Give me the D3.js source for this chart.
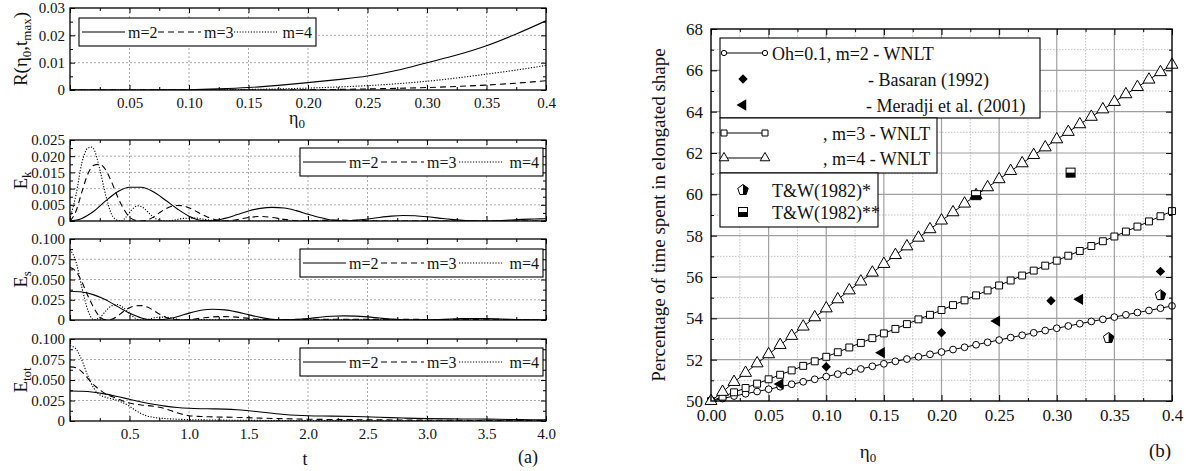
<!DOCTYPE html>
<html>
<head>
<meta charset="utf-8">
<script src="https://cdn.jsdelivr.net/npm/d3@7"></script>
<style>
  body { margin: 0; background: #fff; }
  svg { display: block; }
  text { font-family: "Liberation Serif", "Times New Roman", serif; fill: #111; }
</style>
</head>
<body>
<div id="chart"></div>
<script>
// ---- panel (a), top: R(eta0, tmax) ----
const etaR = [0,0.025,0.05,0.075,0.1,0.125,0.15,0.175,0.2,0.225,0.25,0.275,0.3,0.325,0.35,0.375,0.4]
const R_m2 = [0,0,0,0.00003,0.0001,0.0004,0.0009,0.0017,0.0027,0.0038,0.0051,0.0072,0.0100,0.0128,0.0162,0.0205,0.0253]
const R_m3 = [0,0,0,0,0,0,0,0,0.0001,0.0002,0.0004,0.0006,0.0009,0.0013,0.0018,0.0025,0.0034]
const R_m4 = [0,0,0,0,0.00002,0.0001,0.0002,0.0004,0.0007,0.0011,0.0016,0.0023,0.0032,0.0044,0.0058,0.0073,0.0090]

// ---- Ek ----
const tEk2 = [0,0.1,0.2,0.3,0.4,0.5,0.6,0.7,0.8,0.9,1.0,1.1,1.2,1.3,1.4,1.5,1.6,1.7,1.8,1.9,2.0,2.1,2.2,2.3,2.4,2.5,2.6,2.7,2.8,2.9,3.0,3.1,3.2,3.3,3.4,3.5,3.6,3.7,3.8,3.9,4.0]
const Ek_m2 = [0,0.0008,0.003,0.0062,0.009,0.0104,0.0104,0.009,0.0065,0.0038,0.0015,0.0002,0.0001,0.0008,0.0019,0.0031,0.0039,0.0042,0.004,0.0032,0.0021,0.0011,0.0003,0,0.0002,0.0006,0.0011,0.0015,0.0017,0.0016,0.0013,0.0009,0.0005,0.0002,0,0,0.0001,0.0003,0.0005,0.0006,0.0007]
const tEk3 = [0,0.05,0.1,0.15,0.2,0.25,0.3,0.35,0.4,0.45,0.5,0.55,0.6,0.65,0.7,0.75,0.8,0.85,0.9,0.95,1.0,1.05,1.1,1.15,1.2,1.25,1.3,1.4,1.5,1.6,1.7,1.8,1.9,2.0,2.2,2.4,2.6,4.0]
const Ek_m3 = [0,0.003,0.009,0.0145,0.0172,0.0175,0.0158,0.012,0.0075,0.0038,0.0012,0.0002,0,0.0003,0.0012,0.0025,0.0037,0.0045,0.0048,0.0047,0.0041,0.0032,0.0022,0.0013,0.0006,0.0002,0,0.0004,0.0011,0.0014,0.0011,0.0005,0.0001,0,0.0003,0.0002,0,0]
const tEk4 = [0,0.05,0.1,0.15,0.18,0.2,0.25,0.3,0.35,0.4,0.43,0.47,0.52,0.57,0.62,0.67,0.72,0.8,0.88,0.95,1.05,1.15,1.25,1.4,4.0]
const Ek_m4 = [0.001,0.008,0.018,0.0225,0.0228,0.0222,0.016,0.008,0.002,0.0002,0,0.0012,0.0035,0.0047,0.004,0.0022,0.0007,0,0.0003,0.0008,0.0009,0.0004,0,0,0]

// ---- Es ----
const tEs2 = tEk2
const Es_m2 = [0.0355,0.0345,0.031,0.025,0.0165,0.0085,0.0025,0.0002,0.001,0.004,0.0085,0.012,0.0132,0.0125,0.01,0.0066,0.0032,0.0008,0.0001,0.0006,0.0018,0.0034,0.0046,0.0051,0.0048,0.0038,0.0024,0.0011,0.0003,0,0.0002,0.0007,0.0013,0.0017,0.0019,0.0018,0.0014,0.0009,0.0004,0.0001,0]
const tEs3 = [0,0.05,0.1,0.15,0.2,0.25,0.3,0.35,0.4,0.45,0.5,0.55,0.6,0.65,0.7,0.75,0.8,0.85,0.9,0.95,1.0,1.1,1.2,1.3,1.4,1.5,1.6,1.7,1.8,1.9,2.0,4.0]
const Es_m3 = [0.065,0.06,0.047,0.03,0.015,0.004,0.0003,0.001,0.005,0.0105,0.015,0.0175,0.0178,0.016,0.012,0.0075,0.0038,0.0012,0.0002,0,0.0004,0.0022,0.0038,0.0042,0.0035,0.002,0.0007,0.0001,0.0003,0.0008,0.001,0]
const tEs4 = [0,0.05,0.1,0.15,0.2,0.25,0.3,0.35,0.4,0.45,0.5,0.55,0.6,0.65,0.7,0.75,0.8,0.85,0.9,0.95,1.0,1.1,1.2,4.0]
const Es_m4 = [0.087,0.072,0.04,0.012,0.0005,0.003,0.011,0.0175,0.019,0.015,0.008,0.002,0,0.0008,0.0025,0.0035,0.0035,0.0025,0.001,0.0001,0,0.0005,0.0003,0]

// ---- Etot ----
const tEt2 = [0,0.1,0.2,0.3,0.4,0.5,0.6,0.7,0.8,0.9,1.0,1.1,1.2,1.3,1.4,1.5,1.6,1.7,1.8,1.9,2.0,2.2,2.4,2.6,2.8,3.0,3.2,3.4,3.6,3.8,4.0]
const Et_m2 = [0.0365,0.0362,0.035,0.0328,0.0298,0.0265,0.0232,0.0204,0.0181,0.0165,0.0155,0.015,0.0148,0.0145,0.0138,0.0125,0.011,0.0094,0.008,0.007,0.0064,0.006,0.0055,0.0046,0.0036,0.0029,0.0026,0.0024,0.0021,0.0017,0.0014]
const tEt3 = [0,0.05,0.1,0.15,0.2,0.25,0.3,0.35,0.4,0.5,0.6,0.7,0.8,0.9,1.0,1.1,1.2,1.4,1.6,1.8,2.0,2.5,3.0,3.5,4.0]
const Et_m3 = [0.066,0.065,0.06,0.052,0.044,0.038,0.033,0.03,0.027,0.022,0.0195,0.018,0.015,0.01,0.0065,0.0055,0.005,0.0045,0.0035,0.0028,0.0022,0.0015,0.001,0.0006,0.0004]
const tEt4 = [0,0.05,0.1,0.15,0.2,0.25,0.3,0.35,0.4,0.45,0.5,0.55,0.6,0.65,0.7,0.8,0.9,1.0,1.2,1.5,2.0,4.0]
const Et_m4 = [0.092,0.088,0.074,0.055,0.04,0.032,0.029,0.027,0.025,0.022,0.018,0.013,0.009,0.006,0.0045,0.003,0.0022,0.0017,0.0012,0.0008,0.0005,0.0002]

// ---- panel (b) ----
const eta = [0,0.01,0.02,0.03,0.04,0.05,0.06,0.07,0.08,0.09,0.10,0.11,0.12,0.13,0.14,0.15,0.16,0.17,0.18,0.19,0.20,0.21,0.22,0.23,0.24,0.25,0.26,0.27,0.28,0.29,0.30,0.31,0.32,0.33,0.34,0.35,0.36,0.37,0.38,0.39,0.40]
const wnlt_m2 = [50.0,50.12,50.24,50.35,50.46,50.57,50.69,50.81,50.93,51.05,51.18,51.30,51.43,51.55,51.68,51.80,51.92,52.03,52.14,52.26,52.37,52.49,52.60,52.72,52.84,52.95,53.07,53.18,53.30,53.41,53.52,53.63,53.74,53.85,53.95,54.06,54.17,54.28,54.38,54.49,54.60]
const wnlt_m3 = [50.0,50.21,50.42,50.63,50.84,51.05,51.27,51.48,51.70,51.92,52.14,52.36,52.59,52.81,53.04,53.27,53.49,53.72,53.95,54.17,54.40,54.64,54.87,55.11,55.35,55.59,55.83,56.07,56.31,56.55,56.79,57.03,57.26,57.50,57.73,57.96,58.20,58.44,58.69,58.94,59.19]
const wnlt_m4 = [50.0,50.44,50.92,51.36,51.82,52.26,52.71,53.15,53.60,54.05,54.48,54.92,55.35,55.78,56.21,56.63,57.06,57.48,57.90,58.31,58.73,59.13,59.55,59.96,60.34,60.73,61.13,61.50,61.90,62.27,62.66,63.02,63.39,63.75,64.11,64.47,64.84,65.19,65.55,65.91,66.27]
const basaran_eta = [0.10,0.20,0.295,0.39]
const basaran_val = [51.66,53.3,54.85,56.27]
const meradji_eta = [0.06,0.148,0.248,0.32]
const meradji_val = [50.82,52.34,53.87,54.92]
const tw1_eta = [0.345,0.39]
const tw1_val = [53.05,55.12]
const tw2_eta = [0.23,0.312]
const tw2_val = [59.96,61.05]

const svg = d3.select('#chart').append('svg')
  .attr('width', 1186).attr('height', 471)

const dashes = { m2: null, m3: '6,4', m4: '1.2,1.6' }

function zip(xs, ys) { return xs.map((x, i) => [x, ys[i]]) }

function panelA(cfg) {
  const x = d3.scaleLinear().domain([0, cfg.xmax]).range([70, 546])
  const y = d3.scaleLinear().domain([0, cfg.ymax]).range([cfg.bottom, cfg.top])
  const g = svg.append('g')
  const h = cfg.bottom - cfg.top

  // dotted grid
  g.selectAll('.gx').data(cfg.xMajor.filter(d => d > 0 && d < cfg.xmax)).join('line')
    .attr('x1', d => x(d)).attr('x2', d => x(d)).attr('y1', cfg.top).attr('y2', cfg.bottom)
    .attr('stroke', '#9a9a9a').attr('stroke-width', 0.8).attr('stroke-dasharray', '2,2')
  g.selectAll('.gy').data(cfg.yMajor.filter(d => d > 0 && d < cfg.ymax)).join('line')
    .attr('y1', d => y(d)).attr('y2', d => y(d)).attr('x1', 70).attr('x2', 546)
    .attr('stroke', '#9a9a9a').attr('stroke-width', 0.8).attr('stroke-dasharray', '2,2')

  const clipId = 'clip' + cfg.top
  svg.append('clipPath').attr('id', clipId).append('rect')
    .attr('x', 70).attr('y', cfg.top - 1).attr('width', 476).attr('height', h + 1)

  const line = d3.line().x(d => x(d[0])).y(d => y(d[1])).curve(d3.curveMonotoneX)
  const cg = g.append('g').attr('clip-path', `url(#${clipId})`)
  cfg.series.forEach(s => {
    cg.append('path').datum(zip(s.x, s.y)).attr('d', line)
      .attr('fill', 'none').attr('stroke', '#000').attr('stroke-width', 1.1)
      .attr('stroke-dasharray', dashes[s.key])
  })

  // axes with inward ticks
  const ax = (gen, tr) => {
    const a = g.append('g').attr('transform', tr).call(gen)
    a.select('.domain').remove()
    a.selectAll('line').attr('stroke', '#000')
    a.selectAll('text').style('font-size', '15px').style('font-family', '"Liberation Serif", serif')
    return a
  }
  ax(d3.axisBottom(x).tickValues(cfg.xMajor).tickSize(-5).tickPadding(7)
      .tickFormat(cfg.xFmt ? cfg.xFmt : ''), `translate(0,${cfg.bottom})`)
  ax(d3.axisBottom(x).tickValues(cfg.xMinor).tickSize(-3).tickFormat(''), `translate(0,${cfg.bottom})`)
  ax(d3.axisTop(x).tickValues(cfg.xMajor).tickSize(-5).tickFormat(''), `translate(0,${cfg.top})`)
  ax(d3.axisTop(x).tickValues(cfg.xMinor).tickSize(-3).tickFormat(''), `translate(0,${cfg.top})`)
  ax(d3.axisLeft(y).tickValues(cfg.yMajor).tickSize(-5).tickPadding(5).tickFormat(cfg.yFmt), 'translate(70,0)')
  ax(d3.axisLeft(y).tickValues(cfg.yMinor).tickSize(-3).tickFormat(''), 'translate(70,0)')
  ax(d3.axisRight(y).tickValues(cfg.yMajor).tickSize(-5).tickFormat(''), 'translate(546,0)')
  ax(d3.axisRight(y).tickValues(cfg.yMinor).tickSize(-3).tickFormat(''), 'translate(546,0)')

  g.append('rect').attr('x', 70).attr('y', cfg.top).attr('width', 476).attr('height', h)
    .attr('fill', 'none').attr('stroke', '#000').attr('stroke-width', 1.3)

  // legend
  const L = cfg.legend
  g.append('rect').attr('x', L.x).attr('y', L.y).attr('width', L.w).attr('height', 28)
    .attr('fill', '#fff').attr('stroke', '#000').attr('stroke-width', 1.1)
  const cy = L.y + 14
  const items = [['m2', 'm=2'], ['m3', 'm=3'], ['m4', 'm=4']]
  items.forEach((it, i) => {
    const x0 = L.x + 3 + i * L.step
    g.append('line').attr('x1', x0).attr('x2', x0 + 43).attr('y1', cy).attr('y2', cy)
      .attr('stroke', '#000').attr('stroke-width', 1.1).attr('stroke-dasharray', dashes[it[0]])
    const t = g.append('text').attr('y', cy + 5.5).style('font-size', '16px').text(it[1])
    if (i == 2) t.attr('x', L.x + L.w - 4).attr('text-anchor', 'end')
    else t.attr('x', x0 + 46)
  })

  // y label
  const yl = svg.append('text').attr('transform', `translate(27,${(cfg.top + cfg.bottom) / 2}) rotate(-90)`)
    .attr('text-anchor', 'middle').style('font-size', '19px')
  cfg.ylabel(yl)
}

const fmtA = d => d === 0 ? '0' : d3.format('.3f')(d)
const tMajor = [0,0.5,1,1.5,2,2.5,3,3.5,4]
const tMinor = [0.25,0.75,1.25,1.75,2.25,2.75,3.25,3.75]
const legBox = { x: 300, w: 243, step: 78 }
const sub = (t, s) => t.append('tspan').attr('dy', 4).style('font-size', '13px').text(s)

panelA({
  top: 8, bottom: 90, xmax: 0.4, ymax: 0.03,
  xMajor: [0,0.05,0.1,0.15,0.2,0.25,0.3,0.35,0.4],
  xMinor: [0.025,0.075,0.125,0.175,0.225,0.275,0.325,0.375],
  xFmt: d => d === 0 ? '' : (d === 0.4 ? '0.4' : d3.format('.2f')(d)),
  yMajor: [0,0.01,0.02,0.03], yMinor: [0.005,0.015,0.025],
  yFmt: d => d === 0 ? '0' : d3.format('.2f')(d),
  series: [{ key: 'm2', x: etaR, y: R_m2 }, { key: 'm3', x: etaR, y: R_m3 }, { key: 'm4', x: etaR, y: R_m4 }],
  legend: { x: 79, y: 18, w: 237, step: 76 },
  ylabel: t => {
    t.append('tspan').text('R(η')
    t.append('tspan').attr('dy', 4).style('font-size', '13px').text('0')
    t.append('tspan').attr('dy', -4).text(',t')
    t.append('tspan').attr('dy', 4).style('font-size', '13px').text('max')
    t.append('tspan').attr('dy', -4).text(')')
  }
})
panelA({
  top: 140, bottom: 221, xmax: 4, ymax: 0.025,
  xMajor: tMajor, xMinor: tMinor, xFmt: null,
  yMajor: [0,0.005,0.01,0.015,0.02,0.025], yMinor: [0.0025,0.0075,0.0125,0.0175,0.0225],
  yFmt: fmtA,
  series: [{ key: 'm2', x: tEk2, y: Ek_m2 }, { key: 'm3', x: tEk3, y: Ek_m3 }, { key: 'm4', x: tEk4, y: Ek_m4 }],
  legend: Object.assign({ y: 148 }, legBox),
  ylabel: t => { t.append('tspan').text('E'); sub(t, 'k') }
})
panelA({
  top: 239, bottom: 320, xmax: 4, ymax: 0.1,
  xMajor: tMajor, xMinor: tMinor, xFmt: null,
  yMajor: [0,0.025,0.05,0.075,0.1], yMinor: [0.0125,0.0375,0.0625,0.0875],
  yFmt: fmtA,
  series: [{ key: 'm2', x: tEs2, y: Es_m2 }, { key: 'm3', x: tEs3, y: Es_m3 }, { key: 'm4', x: tEs4, y: Es_m4 }],
  legend: Object.assign({ y: 249 }, legBox),
  ylabel: t => { t.append('tspan').text('E'); sub(t, 's') }
})
panelA({
  top: 339, bottom: 421, xmax: 4, ymax: 0.1,
  xMajor: tMajor, xMinor: tMinor,
  xFmt: d => d === 0 ? '' : d3.format('.1f')(d),
  yMajor: [0,0.025,0.05,0.075,0.1], yMinor: [0.0125,0.0375,0.0625,0.0875],
  yFmt: fmtA,
  series: [{ key: 'm2', x: tEt2, y: Et_m2 }, { key: 'm3', x: tEt3, y: Et_m3 }, { key: 'm4', x: tEt4, y: Et_m4 }],
  legend: Object.assign({ y: 348 }, legBox),
  ylabel: t => { t.append('tspan').text('E'); sub(t, 'tot') }
})

// x labels of panel (a)
const eLab = svg.append('text').attr('x', 297).attr('y', 124).attr('text-anchor', 'middle').style('font-size', '18px')
eLab.append('tspan').text('η')
eLab.append('tspan').attr('dy', 4).style('font-size', '13px').text('0')
svg.append('text').attr('x', 305).attr('y', 465).attr('text-anchor', 'middle').style('font-size', '18px').text('t')
svg.append('text').attr('x', 528).attr('y', 463).attr('text-anchor', 'middle').style('font-size', '18px').text('(a)')

// ---- panel (b) ----
const bx = d3.scaleLinear().domain([0, 0.4]).range([711, 1172])
const by = d3.scaleLinear().domain([50, 68]).range([401, 29])
const gb = svg.append('g')

const bxMajor = [0,0.05,0.1,0.15,0.2,0.25,0.3,0.35,0.4]
const bxMinor = [0.025,0.075,0.125,0.175,0.225,0.275,0.325,0.375]
const byMajor = [50,52,54,56,58,60,62,64,66,68]
const byMinor = [51,53,55,57,59,61,63,65,67]

gb.selectAll('.mnx').data(bxMinor).join('line')
  .attr('x1', d => bx(d)).attr('x2', d => bx(d)).attr('y1', 29).attr('y2', 401)
  .attr('stroke', '#b5b5b5').attr('stroke-width', 0.8).attr('stroke-dasharray', '1.5,1.5')
gb.selectAll('.mny').data(byMinor).join('line')
  .attr('y1', d => by(d)).attr('y2', d => by(d)).attr('x1', 711).attr('x2', 1172)
  .attr('stroke', '#b5b5b5').attr('stroke-width', 0.8).attr('stroke-dasharray', '1.5,1.5')
gb.selectAll('.mjx').data(bxMajor.slice(1, -1)).join('line')
  .attr('x1', d => bx(d)).attr('x2', d => bx(d)).attr('y1', 29).attr('y2', 401)
  .attr('stroke', '#a0a0a0').attr('stroke-width', 1.2)
gb.selectAll('.mjy').data(byMajor.slice(1, -1)).join('line')
  .attr('y1', d => by(d)).attr('y2', d => by(d)).attr('x1', 711).attr('x2', 1172)
  .attr('stroke', '#a0a0a0').attr('stroke-width', 1.2)

const axb = (gen, tr) => {
  const a = gb.append('g').attr('transform', tr).call(gen)
  a.select('.domain').remove()
  a.selectAll('line').attr('stroke', '#000')
  a.selectAll('text').style('font-size', '17px').style('font-family', '"Liberation Serif", serif')
  return a
}
axb(d3.axisBottom(bx).tickValues(bxMajor).tickSize(-6).tickPadding(8)
  .tickFormat(d => d === 0.4 ? '0.4' : d3.format('.2f')(d)), 'translate(0,401)')
axb(d3.axisBottom(bx).tickValues(bxMinor).tickSize(-3).tickFormat(''), 'translate(0,401)')
axb(d3.axisTop(bx).tickValues(bxMajor).tickSize(-6).tickFormat(''), 'translate(0,29)')
axb(d3.axisTop(bx).tickValues(bxMinor).tickSize(-3).tickFormat(''), 'translate(0,29)')
axb(d3.axisLeft(by).tickValues(byMajor).tickSize(-6).tickPadding(8).tickFormat(d3.format('d')), 'translate(711,0)')
axb(d3.axisLeft(by).tickValues(byMinor).tickSize(-3).tickFormat(''), 'translate(711,0)')
axb(d3.axisRight(by).tickValues(byMajor).tickSize(-6).tickFormat(''), 'translate(1172,0)')
axb(d3.axisRight(by).tickValues(byMinor).tickSize(-3).tickFormat(''), 'translate(1172,0)')

const bline = d3.line().x(d => bx(d[0])).y(d => by(d[1]))
const sym = d3.symbol()
const wnlt = [
  { y: wnlt_m2, type: d3.symbolCircle, size: 36 },
  { y: wnlt_m3, type: d3.symbolSquare, size: 48 },
  { y: wnlt_m4, type: d3.symbolTriangle, size: 62 }
]
const pg = gb.append('g')
wnlt.forEach(s => {
  pg.append('path').datum(zip(eta, s.y)).attr('d', bline)
    .attr('fill', 'none').attr('stroke', '#000').attr('stroke-width', 1)
})
wnlt.forEach(s => {
  pg.selectAll(null).data(zip(eta, s.y)).join('path')
    .attr('transform', d => `translate(${bx(d[0])},${by(d[1])})`)
    .attr('d', sym.type(s.type).size(s.size)())
    .attr('fill', '#fff').attr('stroke', '#000').attr('stroke-width', 1)
})

function diamond(sel) {
  sel.attr('d', d3.symbol().type(d3.symbolSquare).size(44)()).attr('fill', '#000')
}
function leftTri(sel) {
  sel.attr('d', d3.symbol().type(d3.symbolTriangle).size(55)()).attr('fill', '#000')
}
function halfPenta(g) {
  const r = 5.5
  const pts = d3.range(5).map(k => [r * Math.sin(k * 2 * Math.PI / 5), -r * Math.cos(k * 2 * Math.PI / 5)])
  g.append('path').attr('d', 'M' + pts.join('L') + 'Z')
    .attr('fill', '#fff').attr('stroke', '#000').attr('stroke-width', 1)
  g.append('path').attr('d', 'M' + [pts[0], pts[1], pts[2], [0, pts[2][1]]].join('L') + 'Z').attr('fill', '#000')
}
function halfSquare(g) {
  g.append('rect').attr('x', -4.5).attr('y', -4.5).attr('width', 9).attr('height', 9)
    .attr('fill', '#fff').attr('stroke', '#000').attr('stroke-width', 1)
  g.append('rect').attr('x', -4.5).attr('y', 0).attr('width', 9).attr('height', 4.5).attr('fill', '#000')
}

pg.selectAll(null).data(zip(basaran_eta, basaran_val)).join('path')
  .attr('transform', d => `translate(${bx(d[0])},${by(d[1])}) rotate(45)`).call(diamond)
pg.selectAll(null).data(zip(meradji_eta, meradji_val)).join('path')
  .attr('transform', d => `translate(${bx(d[0])},${by(d[1])}) rotate(-90)`).call(leftTri)
zip(tw1_eta, tw1_val).forEach(d => halfPenta(pg.append('g').attr('transform', `translate(${bx(d[0])},${by(d[1])})`)))
zip(tw2_eta, tw2_val).forEach(d => halfSquare(pg.append('g').attr('transform', `translate(${bx(d[0])},${by(d[1])})`)))

gb.append('rect').attr('x', 711).attr('y', 29).attr('width', 461).attr('height', 372)
  .attr('fill', 'none').attr('stroke', '#000').attr('stroke-width', 1.4)

// legend (b)
const lg = gb.append('g')
const boxes = [[720, 38, 320, 80], [720, 118, 217, 55], [720, 173, 158, 54]]
boxes.forEach(b => lg.append('rect').attr('x', b[0]).attr('y', b[1]).attr('width', b[2]).attr('height', b[3])
  .attr('fill', '#fff').attr('stroke', '#000').attr('stroke-width', 1.1))
const legRows = [
  { y: 53, kind: 'line', type: d3.symbolCircle, size: 22, text: 'Oh=0.1, m=2 - WNLT', tx: 772 },
  { y: 79, kind: 'diamond', text: '- Basaran (1992)', tx: 868 },
  { y: 105, kind: 'tri', text: '- Meradji et al. (2001)', tx: 866 },
  { y: 133, kind: 'line', type: d3.symbolSquare, size: 36, text: ', m=3 - WNLT', tx: 823 },
  { y: 158, kind: 'line', type: d3.symbolTriangle, size: 40, text: ', m=4 - WNLT', tx: 823 },
  { y: 190, kind: 'hc', text: 'T&W(1982)*', tx: 772 },
  { y: 212, kind: 'hs', text: 'T&W(1982)**', tx: 772 }
]
legRows.forEach(r => {
  if (r.kind === 'line') {
    lg.append('line').attr('x1', 724).attr('x2', 765).attr('y1', r.y).attr('y2', r.y)
      .attr('stroke', '#000').attr('stroke-width', 1)
    ;[724, 765].forEach(px => lg.append('path').attr('transform', `translate(${px},${r.y})`)
      .attr('d', d3.symbol().type(r.type).size(r.size)()).attr('fill', '#fff').attr('stroke', '#000'))
  } else if (r.kind === 'diamond') {
    lg.append('path').attr('transform', `translate(743,${r.y}) rotate(45)`).call(diamond)
  } else if (r.kind === 'tri') {
    lg.append('path').attr('transform', `translate(743,${r.y}) rotate(-90)`).call(leftTri)
  } else if (r.kind === 'hc') {
    halfPenta(lg.append('g').attr('transform', `translate(743,${r.y})`))
  } else {
    halfSquare(lg.append('g').attr('transform', `translate(743,${r.y})`))
  }
  lg.append('text').attr('x', r.tx).attr('y', r.y + 6.5).style('font-size', '18px').text(r.text)
})

svg.append('text').attr('transform', 'translate(665,215) rotate(-90)').attr('text-anchor', 'middle')
  .style('font-size', '19px').text('Percentage of time spent in elongated shape')
const eLabB = svg.append('text').attr('x', 868).attr('y', 458).attr('text-anchor', 'middle').style('font-size', '19px')
eLabB.append('tspan').text('η')
eLabB.append('tspan').attr('dy', 4).style('font-size', '13px').text('0')
svg.append('text').attr('x', 1160).attr('y', 457).attr('text-anchor', 'middle').style('font-size', '19px').text('(b)')
</script>
</body>
</html>
